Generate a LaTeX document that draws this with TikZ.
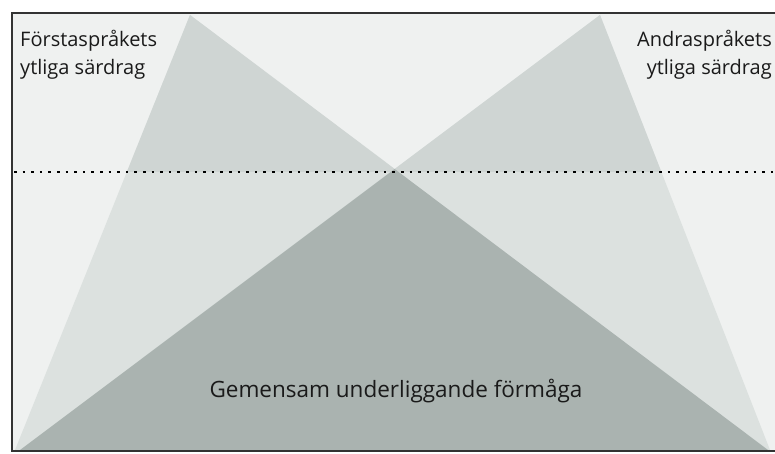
\documentclass[tikz,border=0pt]{standalone}
\usepackage{fontspec}
\setmainfont{Open Sans}
\definecolor{bgc}{HTML}{EFF1F0}
\definecolor{upc}{HTML}{CFD5D3}
\definecolor{lowc}{HTML}{DCE1DF}
\definecolor{overc}{HTML}{AAB3B0}
\definecolor{framec}{HTML}{333333}
\definecolor{txtc}{HTML}{1A1A1A}
\tikzset{
  lbl/.style={inner sep=0pt, text=txtc, font=\fontsize{20}{28}\selectfont},
  biglbl/.style={inner sep=0pt, text=txtc, font=\fontsize{22.5}{28}\selectfont},
  framel/.style={draw=framec, line width=1.8pt},
  waterl/.style={draw=black, line width=2.6pt, dash pattern=on 2.6pt off 6pt}
}
\begin{document}
\begin{tikzpicture}[x=1pt,y=-1pt]
\useasboundingbox (0,0) rectangle (775,454);
\fill[white] (0,0) rectangle (775,454);
\fill[bgc] (12,13) rectangle (775,451);
% icebergs
\coordinate (la) at (190,15);
\coordinate (lb) at (15,450);
\coordinate (lc) at (768,450);
\coordinate (ra) at (600,15);
\coordinate (rb) at (770,450);
\coordinate (rc) at (20,450);
\fill[lowc] (la) -- (lb) -- (lc) -- cycle;
\fill[lowc] (ra) -- (rb) -- (rc) -- cycle;
\begin{scope}
  \clip (0,0) rectangle (775,172);
  \fill[upc] (la) -- (lb) -- (lc) -- cycle;
  \fill[upc] (ra) -- (rb) -- (rc) -- cycle;
\end{scope}
\coordinate (mid) at (intersection of la--lc and ra--rc);
\fill[overc] (mid) -- (lc) -- (rc) -- cycle;
% frame
\coordinate (f1) at (12,451);
\coordinate (f2) at (12,13);
\coordinate (f3) at (775,13);
\coordinate (f4) at (775,451);
\draw[framel] (f3) -- (f2) -- (f1) -- (f4);
% water line
\coordinate (w1) at (14,172);
\coordinate (w2) at (775,172);
\draw[waterl] (w1) -- (w2);
% labels
\node[lbl, anchor=base west, align=left] (first) at (20,75) {Förstaspråkets\\ytliga särdrag};
\node[lbl, anchor=base east, align=right] (second) at (772,75) {Andraspråkets\\ytliga särdrag};
\node[biglbl, anchor=base] (common) at (396,397) {Gemensam underliggande förmåga};
\end{tikzpicture}
\end{document}
